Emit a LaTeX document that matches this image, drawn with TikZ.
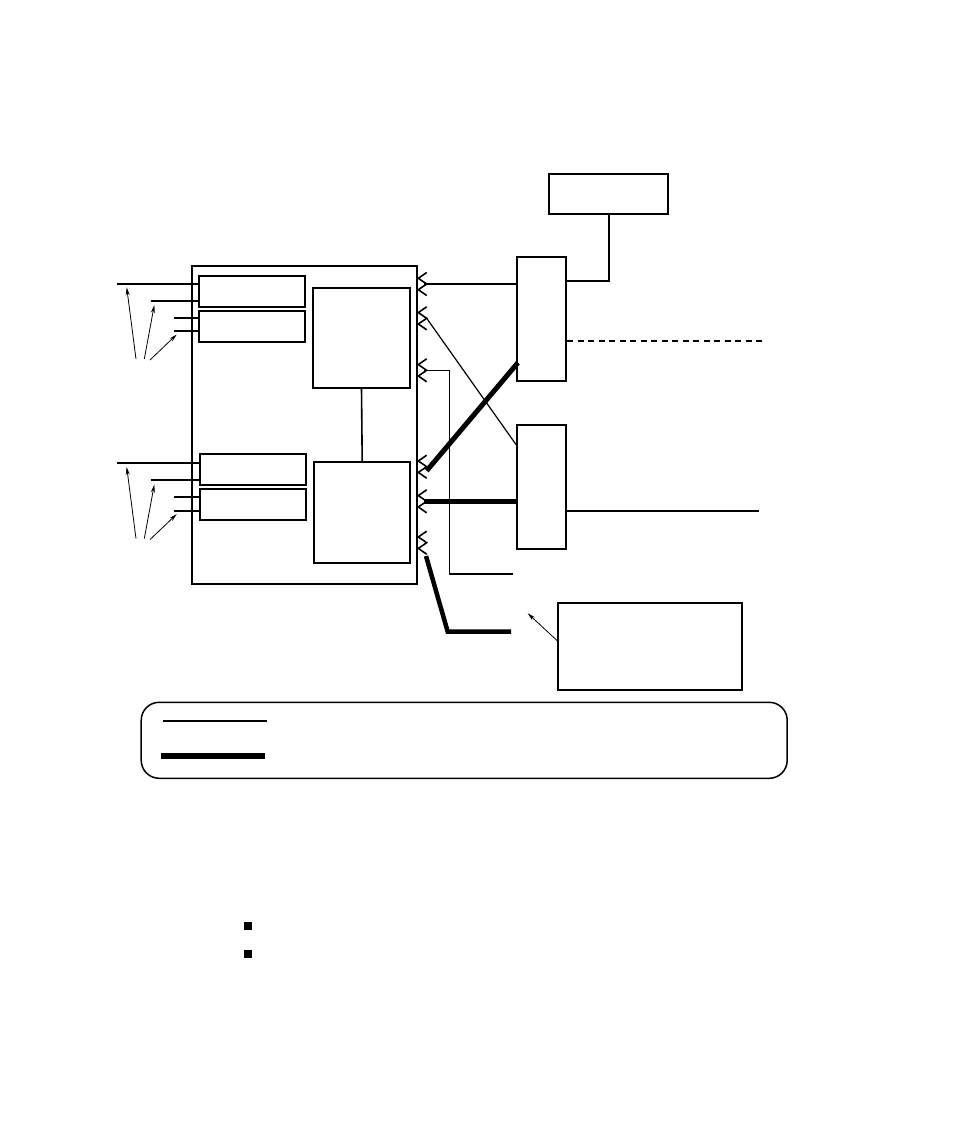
\documentclass[tikz,border=0pt]{standalone}
\usetikzlibrary{arrows.meta}
\tikzset{every node/.style={rectangle,draw,inner sep=0pt,line width=2pt}}
\tikzset{wire/.style={line width=1.2pt}}
\tikzset{bus/.style={line width=5pt}}
\tikzset{tag/.style={line width=0.8pt,-{Stealth[length=8pt,width=4pt]}}}

\begin{document}
\begin{tikzpicture}[x=1pt,y=-1pt]
      \useasboundingbox (0,0) rectangle (954,1145);
      \node[line width=1.5pt,minimum width=225pt,minimum height=318pt] (M) at (304.5,425) {};
      \node[minimum width=106pt,minimum height=31pt] (I1) at (252,291) {};
      \node[minimum width=106pt,minimum height=31pt] (I2) at (252,326) {};
      \node[minimum width=106pt,minimum height=31pt] (I3) at (253.3,469.8) {};
      \node[minimum width=106pt,minimum height=31pt] (I4) at (253.3,504.7) {};
      \node[minimum width=97pt,minimum height=100pt] (CU) at (361.5,337.8) {};
      \node[minimum width=96pt,minimum height=101pt] (CL) at (362.2,512.7) {};
      \node[minimum width=49pt,minimum height=124pt] (A) at (541.7,318.7) {};
      \node[minimum width=49pt,minimum height=124pt] (B) at (541.7,486.8) {};
      \node[minimum width=119pt,minimum height=40pt] (C) at (608.8,193.8) {};
      \node[minimum width=184pt,minimum height=87pt] (D) at (650.2,646.5) {};
      \draw[wire,line width=1.6pt] (CU.south) -- (CL.north);
      % inputs
      \foreach \g/\d in {1/0,2/179.6}{
        \coordinate (s\g a) at (116.7,283.7+\d);
        \coordinate (s\g b) at (150.7,300.7+\d);
        \coordinate (s\g c) at (174,317.7+\d);
        \coordinate (s\g d) at (174,331+\d);
        \draw[tag] (136,359+\d) -- (126.7,287.3+\d);
        \draw[tag] (144.3,359+\d) -- (154.3,305+\d);
        \draw[tag] (150,360+\d) -- (176.7,334.5+\d);
      }
      \foreach \a/\b in {s1a/I1,s1b/I1,s1c/I2,s2a/I3,s2b/I3,s2c/I4,s2d/I4}
        \draw[line width=2pt] (\a) -- (\b.west |- \a);
      \draw[wire] (s1d) -- (I2.west |- s1d);
      % connectors
      \foreach \n/\y in {1/284,2/318.3,3/370.3,4/466.7,5/501.3,6/542.7}{
        \draw[line width=1.6pt] (426.7,\y-11.5) -- (418.3,\y-5.7) -- (426.7,\y) -- (418.3,\y+5.7) -- (426.7,\y+11.5);
        \coordinate (P\n) at (424,\y);
      }
      \draw[wire,line width=1.6pt] (P1) -- (A.west |- P1);
      \draw[wire] ([xshift=2.7pt]P2) -- ([yshift=-21pt]B.north west);
      \coordinate (E3) at (513.3,574);
      \draw[wire] (P3) -| ([xshift=-64pt]E3) -- (E3);
      \draw[bus] ([xshift=2.7pt,yshift=-4pt]P4) -- ([xshift=1.7pt,yshift=19pt]A.south west);
      \draw[bus] (P5) -- (B.west |- P5);
      \coordinate (E6) at (511,631.7);
      \draw[bus,line width=4.5pt] ([xshift=2pt,yshift=-13.3pt]P6) -- ([xshift=-63.3pt]E6) -- (E6);
      \draw[wire,line width=1.6pt] ([yshift=38pt]A.east) -| (C.south);
      \coordinate (E7) at (761.7,341);
      \draw[wire,dash pattern=on 6pt off 4.5pt] (A.east |- E7) -- (E7);
      \coordinate (E8) at (759,510.7);
      \draw[wire,line width=1.6pt] (B.east |- E8) -- (E8);
      \coordinate (E9) at (527.7,613.3);
      \draw[tag] ([yshift=5.8pt]D.west) -- (E9);
      % legend
      \node[line width=1.5pt,rounded corners=18pt,minimum width=646pt,minimum height=76pt] (L) at (464.2,740.3) {};
      \coordinate (L1) at (162.7,720.7);
      \coordinate (L2) at (160.7,755.7);
      \draw[line width=1.8pt] (L1) -- ++(104,0);
      \draw[line width=6pt] (L2) -- ++(104.3,0);
      \node[fill,minimum size=7pt,line width=0pt] (b1) at (248,926) {};
      \node[fill,minimum size=7pt,line width=0pt] (b2) at (248,954) {};
    \end{tikzpicture}
\end{document}
